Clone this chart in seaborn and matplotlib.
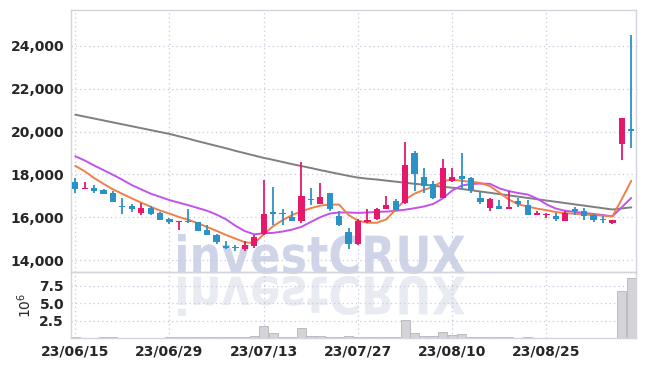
import numpy as np
import pandas as pd
import matplotlib
matplotlib.use("Agg")
import matplotlib.pyplot as plt
import seaborn as sns
from matplotlib.textpath import TextPath
from matplotlib.patches import PathPatch
from matplotlib.font_manager import FontProperties
from matplotlib.transforms import Affine2D, IdentityTransform

# ---------------- data ----------------
dates = ["23/06/15", "23/06/16", "23/06/19", "23/06/20", "23/06/21", "23/06/22", "23/06/23", "23/06/26", "23/06/27", "23/06/28",
         "23/06/29", "23/06/30", "23/07/03", "23/07/04", "23/07/05", "23/07/06", "23/07/07", "23/07/10", "23/07/11", "23/07/12",
         "23/07/13", "23/07/14", "23/07/17", "23/07/18", "23/07/19", "23/07/20", "23/07/21", "23/07/24", "23/07/25", "23/07/26",
         "23/07/27", "23/07/28", "23/07/31", "23/08/01", "23/08/02", "23/08/03", "23/08/04", "23/08/07", "23/08/08", "23/08/09",
         "23/08/10", "23/08/11", "23/08/14", "23/08/16", "23/08/17", "23/08/18", "23/08/21", "23/08/22", "23/08/23", "23/08/24",
         "23/08/25", "23/08/28", "23/08/29", "23/08/30", "23/08/31", "23/09/01", "23/09/04", "23/09/05", "23/09/06", "23/09/07"]

open_ = [17657, 17320, 17360, 17267, 17110, 16530, 16515, 16200, 16435, 16200,
         15905, 15790, 15824, 15777, 15400, 15184, 14667, 14570, 14508, 14650,
         15213, 16232, 16218, 16030, 15810, 16857, 16623, 17140, 16044, 15307,
         14761, 15777, 15918, 16390, 16750, 16670, 18990, 17878, 17534, 16905,
         17690, 17925, 17815, 16905, 16435, 16515, 16390, 16750, 16560, 16124,
         16120, 16044, 15842, 16360, 16312, 16090, 15910, 15730, 19442, 20120]
high = [17845, 17657, 17487, 17330, 17205, 16905, 16610, 16670, 16515, 16230,
        15965, 15842, 16406, 15790, 15654, 15200, 14870, 14714, 14870, 15150,
        17722, 17407, 16360, 16280, 18597, 17346, 17610, 17140, 16280, 15494,
        15936, 16406, 16435, 16970, 16830, 19490, 19100, 18315, 17690, 18710,
        18315, 19020, 17877, 17187, 16877, 16782, 17220, 16877, 16782, 16312,
        16200, 16190, 16280, 16500, 16435, 16153, 16044, 15890, 20636, 24500]
low = [17111, 17300, 17140, 17065, 16700, 16150, 16230, 16105, 16080, 15850,
       15680, 15386, 15750, 15340, 15150, 14743, 14526, 14414, 14400, 14555,
       15150, 15654, 15654, 15810, 15730, 16560, 16623, 16280, 15575, 14526,
       14714, 15730, 15890, 16373, 16280, 16623, 17220, 17140, 16830, 16905,
       17650, 17300, 17140, 16640, 16312, 16360, 16360, 16480, 16090, 16090,
       15965, 15810, 15810, 16124, 15890, 15777, 15730, 15683, 18662, 19255]
close = [17328, 17350, 17235, 17093, 16717, 16470, 16390, 16420, 16150, 15890,
         15777, 15820, 15760, 15372, 15184, 14837, 14555, 14550, 14680, 15058,
         16153, 16170, 16140, 15842, 16985, 16782, 16937, 16390, 15654, 14761,
         15810, 15890, 16360, 16560, 16340, 18440, 18005, 17455, 16905, 18286,
         17878, 17800, 17252, 16717, 16830, 16390, 16470, 16594, 16124, 16218,
         16160, 15936, 16200, 16280, 16044, 15890, 15880, 15890, 20636, 20040]

ma_short = [18400, 18150, 17830, 17560, 17300, 17090, 16880, 16680, 16490, 16310,
            16170, 16010, 15880, 15720, 15540, 15360, 15170, 15000, 14830, 14790,
            15200, 15580, 15860, 16100, 16270, 16420, 16540, 16590, 16590, 16100,
            15840, 15740, 15740, 15900, 16350, 16820, 17100, 17280, 17420, 17690,
            17760, 17700, 17650, 17600, 17450, 17150, 16830, 16600, 16500, 16400,
            16330, 16240, 16190, 16160, 16130, 16100, 16070, 16040, 16850, 17700]
ma_mid = [18850, 18650, 18420, 18200, 17980, 17750, 17500, 17300, 17100, 16950,
          16800, 16680, 16560, 16430, 16300, 16120, 15900, 15600, 15350, 15200,
          15250, 15270, 15330, 15420, 15550, 15780, 16000, 16170, 16220, 16220,
          16200, 16220, 16250, 16260, 16300, 16350, 16420, 16500, 16620, 16880,
          17250, 17480, 17550, 17570, 17560, 17350, 17220, 17130, 17060, 16870,
          16600, 16400, 16300, 16250, 16200, 16150, 16100, 16040, 16470, 16900]
ma_long = [20790, 20700, 20610, 20520, 20430, 20340, 20250, 20160, 20070, 19980,
           19890, 19780, 19670, 19550, 19440, 19330, 19220, 19100, 18990, 18880,
           18770, 18680, 18580, 18480, 18390, 18300, 18200, 18110, 18020, 17930,
           17850, 17800, 17760, 17710, 17660, 17610, 17560, 17520, 17470, 17420,
           17380, 17320, 17260, 17200, 17140, 17080, 17020, 16960, 16900, 16840,
           16780, 16720, 16660, 16600, 16540, 16480, 16420, 16360, 16410, 16460]

volume_m = [0.12, 0.05, 0.05, 0.15, 0.08, 0.05, 0.04, 0.04, 0.05, 0.03,
            0.08, 0.10, 0.10, 0.10, 0.10, 0.10, 0.08, 0.10, 0.15, 0.25,
            1.73, 0.77, 0.20, 0.20, 1.40, 0.35, 0.30, 0.12, 0.20, 0.30,
            0.15, 0.12, 0.12, 0.10, 0.15, 2.60, 0.77, 0.30, 0.30, 0.87,
            0.50, 0.55, 0.20, 0.20, 0.15, 0.08, 0.10, 0.06, 0.10, 0.06,
            0.06, 0.05, 0.05, 0.04, 0.04, 0.03, 0.03, 0.05, 6.80, 8.60]

tick_idx = [0, 10, 20, 30, 40, 50]
price_ticks = [14000, 16000, 18000, 20000, 22000, 24000]
vol_ticks = [2.5, 5.0, 7.5]

# ---------------- style ----------------
sns.set_theme(style="white")
plt.rcParams["font.family"] = ["DejaVu Sans"]

UP = "#e5196c"
DOWN = "#2b92c8"
GRID = "#c9c9dc"
SPINE = "#d4d4de"
TXT = "#262626"

W, H = 645, 366
fig = plt.figure(figsize=(W / 100, H / 100), dpi=100, facecolor="white")
left, right = 71 / W, 636 / W
ax = fig.add_axes([left, 1 - 272 / H, right - left, (272 - 10) / H])
axv = fig.add_axes([left, 1 - 338 / H, right - left, (338 - 272) / H], sharex=ax)
for a in (ax, axv):
    a.set_facecolor("none")

df = pd.DataFrame({"i": np.arange(len(dates)), "date": dates, "open": open_, "high": high,
                   "low": low, "close": close, "ma_s": ma_short, "ma_m": ma_mid,
                   "ma_l": ma_long, "vol": volume_m})

# moving averages
sns.lineplot(data=df, x="i", y="ma_l", ax=ax, color="#7f7f7f", linewidth=1.4, zorder=2)
sns.lineplot(data=df, x="i", y="ma_m", ax=ax, color="#c452ea", linewidth=1.4, zorder=2)
sns.lineplot(data=df, x="i", y="ma_s", ax=ax, color="#ee8048", linewidth=1.4, zorder=2)

# candles
up = df["close"] >= df["open"]
cols = np.where(up, UP, DOWN)
ax.vlines(df["i"], df["low"], df["high"], colors=cols, linewidth=1.3, zorder=3)
body_bottom = np.minimum(df["open"], df["close"])
body_h = np.maximum(np.abs(df["close"] - df["open"]), 45)
ax.bar(df["i"], body_h, bottom=body_bottom, width=0.66, color=cols, linewidth=0, zorder=4)

# volume
sns.barplot(data=df, x="i", y="vol", ax=axv, native_scale=True, color="#d3d3d8",
            edgecolor="#b4b4bc", linewidth=0.6, width=0.95, saturation=1, zorder=2)

# axes formatting
ax.set_xlim(-0.45, 59.5)
ax.set_ylim(13440, 25680)
axv.set_ylim(0, 9.5)

ax.set_yticks(price_ticks)
ax.set_yticklabels([f"{v:,}" for v in price_ticks])
axv.set_yticks(vol_ticks)
axv.set_yticklabels([f"{v:.1f}" for v in vol_ticks])
axv.set_xticks(tick_idx)
axv.set_xticklabels([dates[k] for k in tick_idx])
ax.tick_params(axis="x", labelbottom=False, length=0)
for a in (ax, axv):
    a.tick_params(axis="both", length=0, labelsize=10, colors=TXT, pad=5)
    a.grid(True, color=GRID, linestyle=(0, (1, 2.5)), linewidth=0.9)
    a.set_axisbelow(True)
    a.set_xlabel("")
    a.set_ylabel("")
    for s in a.spines.values():
        s.set_color(SPINE)
        s.set_linewidth(1.0)
for lbl in ax.get_yticklabels() + axv.get_yticklabels() + axv.get_xticklabels():
    lbl.set_fontweight("bold")
axv.set_ylabel(r"$10^{6}$", fontsize=10, color=TXT, labelpad=4)

# watermark with reflection
tp = TextPath((0, 0), "investCRUX", size=100,
              prop=FontProperties(family="DejaVu Sans", weight="bold"))
ext = tp.get_extents()
sx = (465 - 178) / ext.width
sy = 40 / ext.height
base_y = H - 274
tr_main = Affine2D().translate(-ext.x0, -ext.y0).scale(sx, sy).translate(178, base_y)
tr_refl = Affine2D().translate(-ext.x0, -ext.y0).scale(sx, -sy).translate(178, base_y - 2)
fig.add_artist(PathPatch(tp, transform=tr_main + IdentityTransform(), facecolor="#cfd4e8",
                         edgecolor="none", zorder=-1))
fig.add_artist(PathPatch(tp, transform=tr_refl + IdentityTransform(), facecolor="#e9ebf3",
                         edgecolor="none", zorder=-1))

fig.savefig("out.png", dpi=100, facecolor="white")
